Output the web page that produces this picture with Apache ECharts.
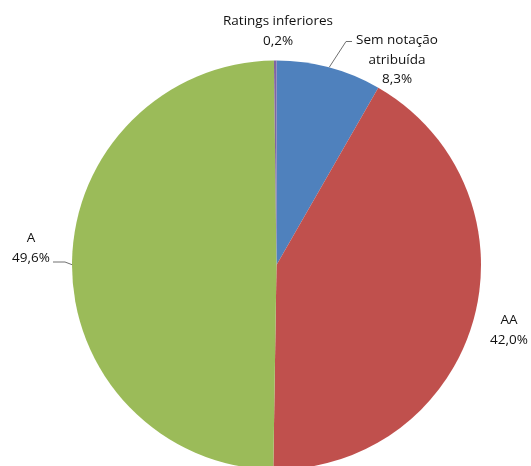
<!DOCTYPE html>
<html>
<head>
<meta charset="utf-8">
<script src="https://cdn.jsdelivr.net/npm/echarts@6/dist/echarts.min.js"></script>
<style>
html,body{margin:0;padding:0;background:#fff;}
#chart{width:531px;height:466px;}
</style>
</head>
<body>
<div id="chart"></div>
<script>
const categories = ['Sem notação atribuída', 'AA', 'A', 'Ratings inferiores'];
const labelNames = ['Sem notação\natribuída', 'AA', 'A', 'Ratings inferiores'];
const values = [8.3, 42.0, 49.6, 0.2];
const colors = ['#4F81BD', '#C0504D', '#9BBB59', '#8064A2'];

// label placement (pixel) and leader-line setup per slice
const labelPos = [
  {x: 397, y: 60, line: true, elbow: [346, 41.5], end: [352, 41.5]},
  {x: 509, y: 330, line: false},
  {x: 31, y: 248, line: true, elbow: [65, 262], end: [53, 262]},
  {x: 278, y: 31, line: false}
];

const chart = echarts.init(document.getElementById('chart'), null, {renderer: 'canvas'});

const data = categories.map((c, i) => ({
  name: c,
  value: values[i],
  itemStyle: {color: colors[i]},
  labelLine: {show: labelPos[i].line}
}));

chart.setOption({
  animation: false,
  backgroundColor: '#fff',
  series: [{
    type: 'pie',
    center: [276.5, 265],
    radius: 204.5,
    startAngle: 90,
    clockwise: true,
    data: data,
    itemStyle: {borderWidth: 0},
    emphasis: {disabled: true},
    label: {
      show: true,
      position: 'outside',
      alignTo: 'none',
      overflow: 'none',
      fontFamily: 'Open Sans',
      fontSize: 13.5,
      color: '#111',
      lineHeight: 19.5,
      align: 'center',
      formatter: function (p) {
        return labelNames[p.dataIndex] + '\n' + values[p.dataIndex].toFixed(1).replace('.', ',') + '%';
      }
    },
    labelLine: {
      lineStyle: {color: '#707070', width: 1}
    },
    labelLayout: function (params) {
      const lp = labelPos[params.dataIndex];
      const out = {x: lp.x, y: lp.y, align: 'center', verticalAlign: 'middle'};
      if (lp.line && params.labelLinePoints) {
        out.labelLinePoints = [params.labelLinePoints[0], lp.elbow, lp.end];
      }
      return out;
    }
  }]
});
</script>
</body>
</html>
